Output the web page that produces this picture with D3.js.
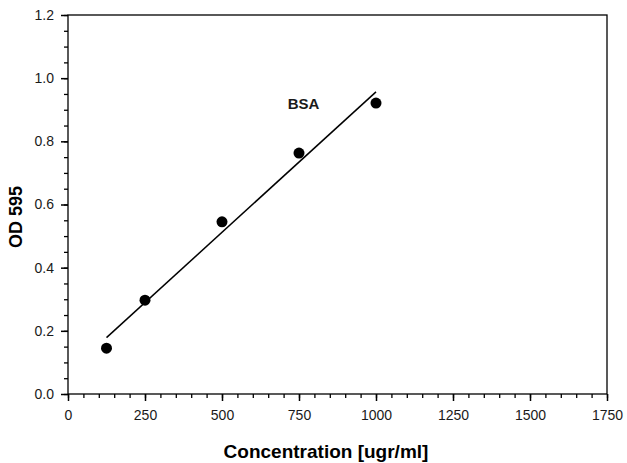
<!DOCTYPE html>
<html>
<head>
<meta charset="utf-8">
<script src="https://cdn.jsdelivr.net/npm/d3@7"></script>
<style>
  body { margin: 0; background: #fff; }
  text { font-family: "Liberation Sans", Arial, sans-serif; }
</style>
</head>
<body>
<div id="chart"></div>
<script>
// BSA standard curve
var concentration = [125, 250, 500, 750, 1000];
var od595 = [0.145, 0.297, 0.545, 0.763, 0.921];
var xTicks = [0, 250, 500, 750, 1000, 1250, 1500, 1750];
var yTicks = [0.0, 0.2, 0.4, 0.6, 0.8, 1.0, 1.2];

var width = 627, height = 463;
var margin = {left: 68, right: 20, top: 15, bottom: 69};

var svg = d3.select("#chart").append("svg")
    .attr("width", width)
    .attr("height", height);

var x = d3.scaleLinear().domain([0, 1750]).range([margin.left, width - margin.right]);
var y = d3.scaleLinear().domain([0, 1.2]).range([height - margin.bottom, margin.top]);

// frame
svg.append("rect")
    .attr("x", x(0)).attr("y", y(1.2))
    .attr("width", x(1750) - x(0)).attr("height", y(0) - y(1.2))
    .attr("fill", "none").attr("stroke", "#000").attr("stroke-width", 1.3);

// minor ticks
svg.append("g")
    .attr("transform", `translate(0,${y(0)})`)
    .call(d3.axisBottom(x).tickValues(d3.range(0, 1751, 50)).tickSize(4).tickFormat(""))
    .call(g => g.select(".domain").remove())
    .selectAll("line").attr("stroke-width", 1.3);

svg.append("g")
    .attr("transform", `translate(${x(0)},0)`)
    .call(d3.axisLeft(y).tickValues(d3.range(0, 1.2001, 0.05)).tickSize(4).tickFormat(""))
    .call(g => g.select(".domain").remove())
    .selectAll("line").attr("stroke-width", 1.3);

// major ticks
var xAxis = svg.append("g")
    .attr("transform", `translate(0,${y(0)})`)
    .call(d3.axisBottom(x).tickValues(xTicks).tickSize(7).tickPadding(9).tickFormat(d3.format("d")));
xAxis.select(".domain").remove();
xAxis.selectAll("line").attr("stroke-width", 1.5);
xAxis.selectAll("text").attr("font-size", 14).attr("fill", "#1a1a1a")
    .style("font-family", "'Liberation Sans', Arial, sans-serif");

var yAxis = svg.append("g")
    .attr("transform", `translate(${x(0)},0)`)
    .call(d3.axisLeft(y).tickValues(yTicks).tickSize(7).tickPadding(7).tickFormat(d3.format(".1f")));
yAxis.select(".domain").remove();
yAxis.selectAll("line").attr("stroke-width", 1.5);
yAxis.selectAll("text").attr("font-size", 14).attr("fill", "#1a1a1a")
    .style("font-family", "'Liberation Sans', Arial, sans-serif");

// least squares fit line
var mx = d3.mean(concentration), my = d3.mean(od595);
var sxy = d3.sum(concentration, (c, i) => (c - mx) * (od595[i] - my));
var sxx = d3.sum(concentration, c => (c - mx) * (c - mx));
var slope = sxy / sxx, intercept = my - slope * mx;
var fitX = d3.extent(concentration);

svg.append("line")
    .attr("x1", x(fitX[0])).attr("y1", y(intercept + slope * fitX[0]))
    .attr("x2", x(fitX[1])).attr("y2", y(intercept + slope * fitX[1]))
    .attr("stroke", "#000").attr("stroke-width", 1.5);

// points
svg.append("g").selectAll("circle")
    .data(concentration)
    .join("circle")
    .attr("cx", d => x(d))
    .attr("cy", (d, i) => y(od595[i]))
    .attr("r", 5.5)
    .attr("fill", "#000");

svg.append("text")
    .attr("x", x(765)).attr("y", y(0.903))
    .attr("text-anchor", "middle")
    .attr("font-size", 15).attr("font-weight", "bold").attr("fill", "#1a1a1a")
    .text("BSA");

// axis titles
svg.append("text")
    .attr("x", 326).attr("y", 458)
    .attr("text-anchor", "middle")
    .attr("font-size", 19).attr("font-weight", "bold")
    .text("Concentration [ugr/ml]");

svg.append("text")
    .attr("transform", "translate(22,217) rotate(-90)")
    .attr("text-anchor", "middle")
    .attr("font-size", 18).attr("font-weight", "bold")
    .text("OD 595");
</script>
</body>
</html>
